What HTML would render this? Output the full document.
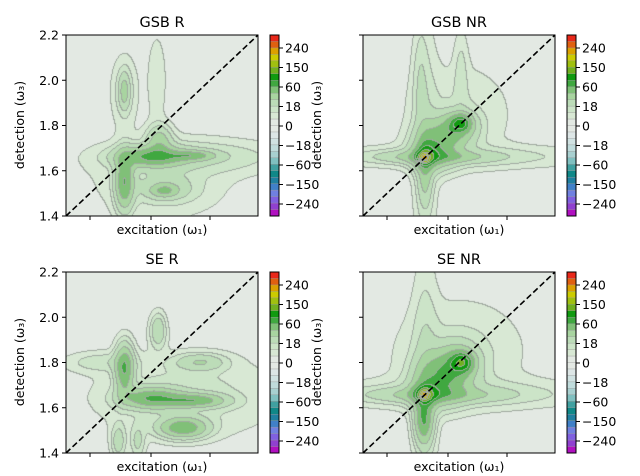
<!DOCTYPE html>
<html><head><meta charset="utf-8">
<style>
body{margin:0;background:#fff;width:640px;height:476px;overflow:hidden;font-family:"DejaVu Sans","Liberation Sans",sans-serif;}
#wrap{position:relative;width:640px;height:476px;}
canvas{position:absolute;}
svg{position:absolute;left:0;top:0;}
</style></head>
<body>
<div id="wrap">
<canvas id="c0" width="192" height="181" style="left:66px;top:35px"></canvas>
<canvas id="c1" width="192" height="181" style="left:363px;top:35px"></canvas>
<canvas id="c2" width="192" height="181" style="left:66px;top:272px"></canvas>
<canvas id="c3" width="192" height="181" style="left:363px;top:272px"></canvas>
<svg id="ov" width="640" height="476"></svg>
</div>
<script>
// Data: gaussian components per panel [w1, w3, sigma1, sigma3, amplitude]
const titles = ["GSB R","GSB NR","SE R","SE NR"];
const gsbR = [[1.76,1.66,0.09,0.028,40],[1.93,1.665,0.06,0.014,26],[1.645,1.55,0.025,0.08,40],[1.79,1.73,0.035,0.045,20],
  [1.81,1.51,0.035,0.018,20],[1.82,1.52,0.08,0.04,11],[1.645,1.95,0.014,0.05,16],[1.645,1.95,0.035,0.1,8],
  [1.95,1.66,0.25,0.05,8],[1.8,1.55,0.2,0.12,5],[1.78,2.0,0.03,0.15,4]];
const gsbNR = [[1.658,1.656,0.012,0.012,130],[1.66,1.66,0.03,0.03,40],[1.81,1.81,0.03,0.025,45],
  [1.7,1.7,0.06,0.06,32],[1.78,1.78,0.06,0.05,28],[1.7,1.66,0.15,0.018,18],[1.8,1.66,0.4,0.035,7],
  [1.66,1.6,0.02,0.1,18],[1.66,1.7,0.035,0.4,6],[1.8,1.85,0.15,0.15,5],[1.81,2.05,0.02,0.12,5],[1.64,2.0,0.02,0.15,5]];
const seR = [[1.645,1.77,0.025,0.07,42],[1.76,1.64,0.08,0.03,40],[1.94,1.63,0.08,0.02,34],[1.89,1.51,0.065,0.03,38],
  [1.785,1.94,0.022,0.05,16],[1.96,1.8,0.07,0.025,15],[1.9,1.65,0.25,0.12,7],[1.55,1.8,0.1,0.03,7],
  [1.62,1.45,0.02,0.05,13],[1.7,1.45,0.02,0.05,10]];
const seNR = [[1.658,1.656,0.012,0.012,140],[1.66,1.66,0.035,0.03,40],[1.815,1.8,0.03,0.028,50],[1.72,1.72,0.07,0.07,32],
  [1.79,1.79,0.06,0.06,26],[1.655,1.55,0.025,0.07,40],[1.7,1.655,0.18,0.022,16],[1.8,1.66,0.4,0.045,7],
  [1.66,1.7,0.035,0.4,7],[1.8,1.85,0.18,0.15,6]];
const panels = [gsbR,gsbNR,seR,seNR];
const yTicks = [2.0,1.8,1.6];
const yTickLabels = ["2.0","1.8","1.6"];
const cbLabels = ["240","150","60","18","0","\u221218","\u221260","\u2212150","\u2212240"];
const thresholds = [0,3,6,10,18,30,45,60,80,110,150,190,240,280];
const bandColors = ["#e8281a","#e06010","#dca000","#cccc00","#a0c010","#70b020","#109a10","#40a840","#80c078","#a8d4a0","#bcdcb8","#cce4c8","#d8e8d4","#e3e9e3",
 "#e4e9e4","#dde6e6","#d0e2e2","#c0dcdc","#a8d0d0","#80c0c0","#40a0a0","#108888","#2080a0","#4080c8","#7080e0","#8060e0","#9040d0","#b010c0"];

const X0=1.4,X1=2.2,W=192,H=181;
const sx=v=>(v-X0)/(X1-X0)*W, sy=v=>H-(v-X0)/(X1-X0)*H;
function hex(c){return [parseInt(c.slice(1,3),16),parseInt(c.slice(3,5),16),parseInt(c.slice(5,7),16)];}
function val(g,x,y){let s=0;for(const [a,b,c,d,A] of g){s+=A*Math.exp(-((x-a)**2/(2*c*c)+(y-b)**2/(2*d*d)));}return s;}
function band(v){let i=0;while(i<thresholds.length-1&&v>=thresholds[i+1])i++;return 13-i;}
panels.forEach((g,k)=>{
  const cv=document.getElementById('c'+k),ctx=cv.getContext('2d'),im=ctx.createImageData(W,H);
  const B=new Int8Array(W*H);
  for(let j=0;j<H;j++)for(let i=0;i<W;i++){
    const x=X0+(i+0.5)/W*(X1-X0),y=X0+(H-j-0.5)/H*(X1-X0);
    B[j*W+i]=band(val(g,x,y)+1);
  }
  for(let j=0;j<H;j++)for(let i=0;i<W;i++){
    const b=B[j*W+i];let c=hex(bandColors[b]);
    const edge=(i<W-1&&B[j*W+i+1]!=b)||(j<H-1&&B[(j+1)*W+i]!=b);
    if(edge)c=[160,170,160];
    const p=(j*W+i)*4;im.data[p]=c[0];im.data[p+1]=c[1];im.data[p+2]=c[2];im.data[p+3]=255;
  }
  ctx.putImageData(im,0,0);
});

const NS="http://www.w3.org/2000/svg",ov=document.getElementById('ov');
function mk(t,a,txt){const e=document.createElementNS(NS,t);for(const k in a)e.setAttribute(k,a[k]);if(txt!=null)e.textContent=txt;ov.appendChild(e);return e;}
const offs=[[66,35],[363,35],[66,272],[363,272]];
offs.forEach(([ox,oy],k)=>{
  let e;
  e=mk('rect',{x:ox,y:oy,width:W,height:H,fill:'none',stroke:'#000','stroke-width':1});
  
  
  e=mk('line',{x1:ox+sx(1.4),y1:oy+sy(1.4),x2:ox+sx(2.2),y2:oy+sy(2.2),stroke:'#000','stroke-width':1.6,'stroke-dasharray':'6,3'});
  
  
  e=mk('text',{x:ox+96,y:oy-8,'text-anchor':'middle','font-size':14.5},titles[k]);
  
  
  [24,85,144].forEach(t=>{mk('line',{x1:ox+t,y1:oy+H,x2:ox+t,y2:oy+H+4,stroke:'#000'});});
  e=mk('text',{x:ox+96,y:oy+H+18,'text-anchor':'middle','font-size':12.5},'excitation (\u03c9\u2081)');
  
  
  e=mk('text',{transform:`translate(${ox-42},${oy+90}) rotate(-90)`,'text-anchor':'middle','font-size':12.5},'detection (\u03c9\u2083)');
  
  
  [2.2,...yTicks,1.4].forEach(t=>{
    mk('line',{x1:ox-4,y1:oy+sy(t),x2:ox,y2:oy+sy(t),stroke:'#000'});
  });
  if(k==0||k==2){
    const lab=[["2.2",2.2],...yTicks.map((t,i)=>[yTickLabels[i],t]),["1.4",1.4]];
    lab.forEach(([s,t])=>{
      e=mk('text',{x:ox-7,y:oy+sy(t)+4.5,'text-anchor':'end','font-size':12.5},s);
      
      
    });
  }
  const cx=ox+204;
  const bh=H/bandColors.length;
  bandColors.forEach((c,i)=>{mk('rect',{x:cx,y:oy+i*bh,width:9,height:bh+0.3,fill:c,stroke:'#999','stroke-width':0.4});});
  e=mk('rect',{x:cx,y:oy,width:9,height:H,fill:'none',stroke:'#000'});
  
  
  cbLabels.forEach((s,i)=>{
    const yy=oy+13+i*19.5;
    mk('line',{x1:cx+9,y1:yy,x2:cx+13,y2:yy,stroke:'#000'});
    e=mk('text',{x:cx+15,y:yy+4.5,'font-size':12.5},s);
    
    
  });
});
</script>
</body></html>
